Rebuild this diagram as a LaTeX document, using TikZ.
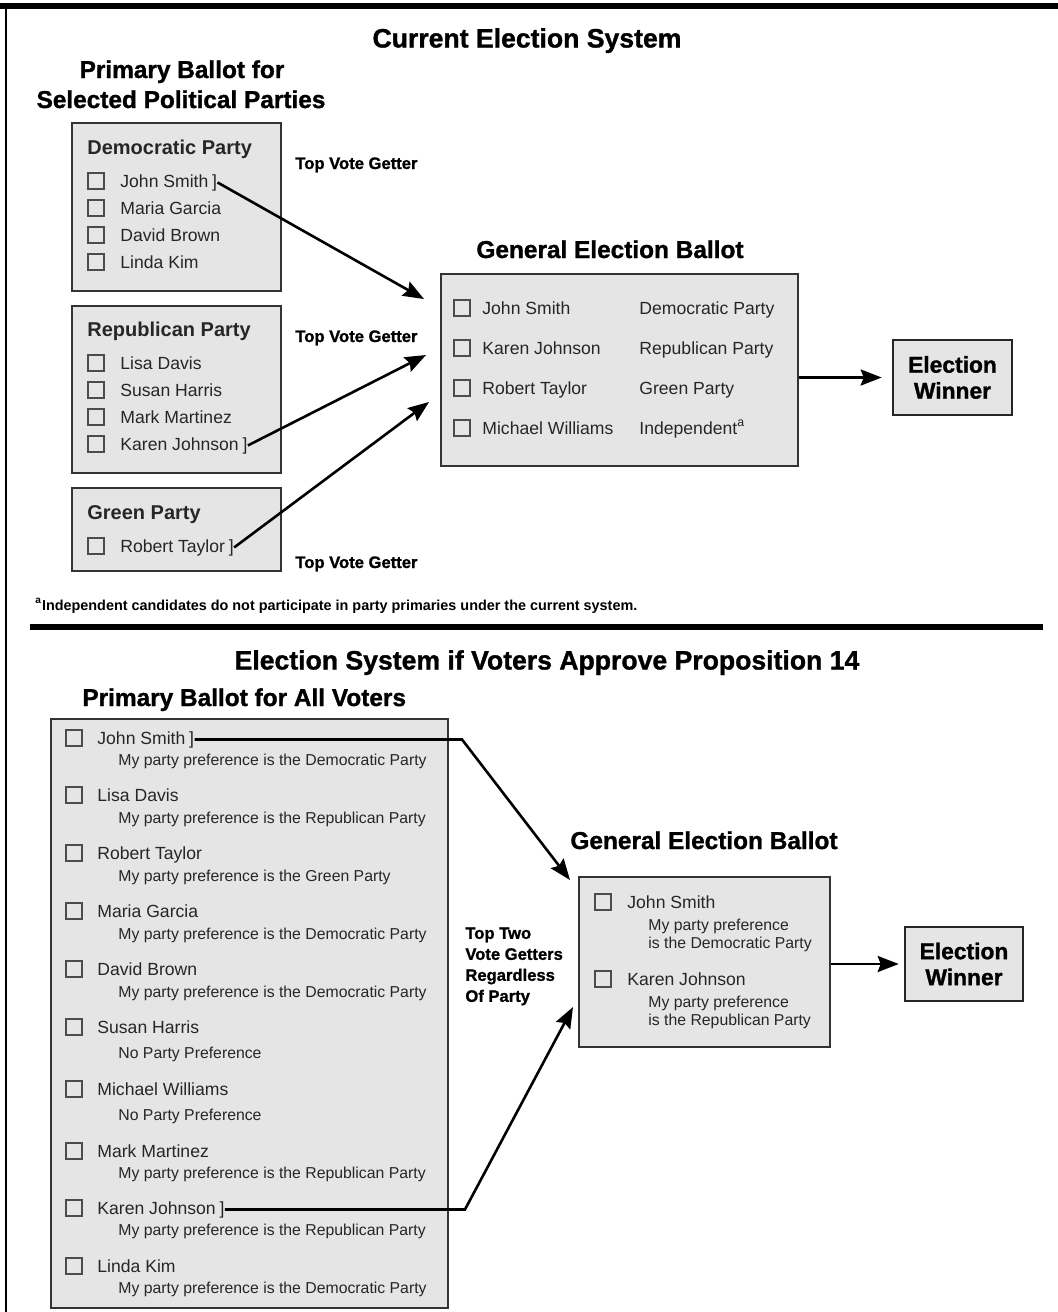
\documentclass[tikz,border=0pt]{standalone}
\usepackage{fontspec}
\setmainfont{Liberation Sans}
\newfontfamily\heavyfont{Liberation Sans}[BoldFeatures={FakeBold=1.2}]
\usetikzlibrary{arrows.meta}

\begin{document}
\begin{tikzpicture}[x=.5pt,y=-.5pt,
  ballot/.style={draw=black!80,line width=1.2pt,fill=black!10,anchor=north west,inner sep=0pt},
  winbox/.style={draw=black!85,line width=1.3pt,fill=black!10,align=center,inner sep=0pt,font=\heavyfont\bfseries\fontsize{11.4}{13}\selectfont},
  chk/.style={draw=black!70,line width=.6pt,minimum size=8pt,inner sep=0pt},
  cand/.style={anchor=base west,inner sep=0pt,text=black!85,font=\fontsize{8.8}{10}\selectfont},
  pref/.style={anchor=base west,inner sep=0pt,text=black!85,font=\fontsize{7.9}{9}\selectfont},
  brk/.style={anchor=base west,inner sep=0pt,xshift=1.5pt,text=black!85,font=\fontsize{8.8}{10}\selectfont},
  title/.style={anchor=base,inner sep=0pt,font=\heavyfont\bfseries\fontsize{13.3}{16}\selectfont},
  head/.style={anchor=base,inner sep=0pt,font=\heavyfont\bfseries\fontsize{12.2}{15}\selectfont},
  party/.style={anchor=base west,inner sep=0pt,text=black!85,font=\bfseries\fontsize{10}{12}\selectfont},
  tvg/.style={anchor=base west,inner sep=0pt,font=\heavyfont\bfseries\fontsize{8.3}{10.5}\selectfont},
  arr/.style={line width=1.3pt,-{Stealth[length=10.5pt,width=8pt,inset=1.5pt]}}]

  \useasboundingbox (0,0) rectangle (1058,1312);
  \draw [line width=3pt] (0,6) -- (1058,6);
  \draw [line width=1pt] (6,6) -- (6,1312);

  % current system
  \node [title] (cur) at (527,47.5) {Current Election System};
  \node [head] (pb1) at (182,78) {Primary Ballot for};
  \node [head] (pb2) at (181,108) {Selected Political Parties};

  \node [ballot,minimum width=104.5pt,minimum height=84pt] (dem) at (71,122) {};
  \node [ballot,minimum width=104.5pt,minimum height=83.5pt] (rep) at (71,305) {};
  \node [ballot,minimum width=104.5pt,minimum height=41.5pt] (grn) at (71,487) {};
  \node [party] (demh) at (87,154) {Democratic Party};
  \node [party] (reph) at (87,336) {Republican Party};
  \node [party] (grnh) at (87,519) {Green Party};

  \foreach \y/\nm [count=\i] in {181/John Smith,208/Maria Garcia,235/David Brown,262/Linda Kim,
    363/Lisa Davis,390/Susan Harris,417/Mark Martinez,444/Karen Johnson,546/Robert Taylor}
  {
    \node [chk] (pc\i) at (96,\y) {};
    \node [cand] (p\i) at (120,\y+6) {\nm};
  }
  \node [brk] (p1r) at (p1.base east) {]};
  \node [brk] (p8r) at (p8.base east) {]};
  \node [brk] (p9r) at (p9.base east) {]};

  \node [tvg] (tv1) at (295,169) {Top Vote Getter};
  \node [tvg] (tv2) at (295,342) {Top Vote Getter};
  \node [tvg] (tv3) at (295,568) {Top Vote Getter};

  \node [head] (geh1) at (610,258) {General Election Ballot};
  \node [ballot,minimum width=178.5pt,minimum height=96pt] (gen1) at (440,273) {};
  \foreach \y/\nm/\pt [count=\i] in {308/John Smith/Democratic Party,348/Karen Johnson/Republican Party,
    388/Robert Taylor/Green Party,428/Michael Williams/Independent\textsuperscript{a}}
  {
    \node [chk] (gc\i) at (462,\y) {};
    \node [cand] (gn\i) at (482,\y+6) {\nm};
    \node [cand] (gp\i) at (639,\y+6) {\pt};
  }

  \coordinate (tip1) at (424,299);
  \coordinate (tip2) at (426,355);
  \coordinate (tip3) at (429,402);
  \draw [arr] (p1r.east) -- (tip1);
  \draw [arr] (p8r.east) -- (tip2);
  \draw [arr] (p9r.east) -- (tip3);

  \node [winbox,minimum width=59.5pt,minimum height=37.5pt] (win1) at (952.5,377.5) {Election\\Winner};
  \draw [arr,shorten >=5pt] (win1.west -| gen1.east) -- (win1.west);

  \node [anchor=base west,inner sep=0pt,font=\bfseries\fontsize{7.2}{8}\selectfont] (fn) at (35,610)
    {\textsuperscript{a}Independent candidates do not participate in party primaries under the current system.};
  \draw [line width=3pt] (30,627) -- (1043,627);

  % proposition 14
  \node [title] (prop) at (547,669.5) {Election System if Voters Approve Proposition 14};
  \node [head,anchor=base west] (pb3) at (82,706) {Primary Ballot for All Voters};
  \node [ballot,minimum width=198.5pt,minimum height=294.5pt] (allv) at (50,718) {};

  \foreach \y/\py/\nm/\pr [count=\i] in {
    738/760/John Smith/My party preference is the Democratic Party,
    795/818/Lisa Davis/My party preference is the Republican Party,
    853/876/Robert Taylor/My party preference is the Green Party,
    911/934/Maria Garcia/My party preference is the Democratic Party,
    969/992/David Brown/My party preference is the Democratic Party,
    1027/1053/Susan Harris/No Party Preference,
    1089/1115/Michael Williams/No Party Preference,
    1151/1173/Mark Martinez/My party preference is the Republican Party,
    1208/1230/Karen Johnson/My party preference is the Republican Party,
    1266/1288/Linda Kim/My party preference is the Democratic Party}
  {
    \node [chk] (ac\i) at (74,\y) {};
    \node [cand] (a\i) at (97,\y+6) {\nm};
    \node [pref] (ap\i) at (118,\py+5.5) {\pr};
  }
  \node [brk] (a1r) at (a1.base east) {]};
  \node [brk] (a9r) at (a9.base east) {]};

  \node [tvg,anchor=north west,align=left] (tt) at (465,927) {Top Two\\Vote Getters\\Regardless\\Of Party};

  \node [head] (geh2) at (704,849) {General Election Ballot};
  \node [ballot,minimum width=125.5pt,minimum height=85pt] (gen2) at (578,876) {};
  \foreach \y/\nm/\pr [count=\i] in {902/John Smith/Democratic,979/Karen Johnson/Republican}
  {
    \node [chk] (bc\i) at (603,\y) {};
    \node [cand] (b\i) at (627,\y+6) {\nm};
    \node [pref] (bp\i) at (648,\y+28) {My party preference};
    \node [pref] (bq\i) at (648,\y+46.5) {is the \pr\ Party};
  }

  \coordinate (k1) at (462,738);
  \coordinate (k2) at (465,1208);
  \coordinate (tip4) at (570,880);
  \coordinate (tip5) at (573,1007);
  \draw [arr] (a1r.east) -- (a1r.east -| k1) -- (tip4);
  \draw [arr] (a9r.east) -- (a9r.east -| k2) -- (tip5);

  \node [winbox,minimum width=59pt,minimum height=37pt] (win2) at (964,964) {Election\\Winner};
  \draw [arr,shorten >=2.5pt] (win2.west -| gen2.east) -- (win2.west);
\end{tikzpicture}
\end{document}
